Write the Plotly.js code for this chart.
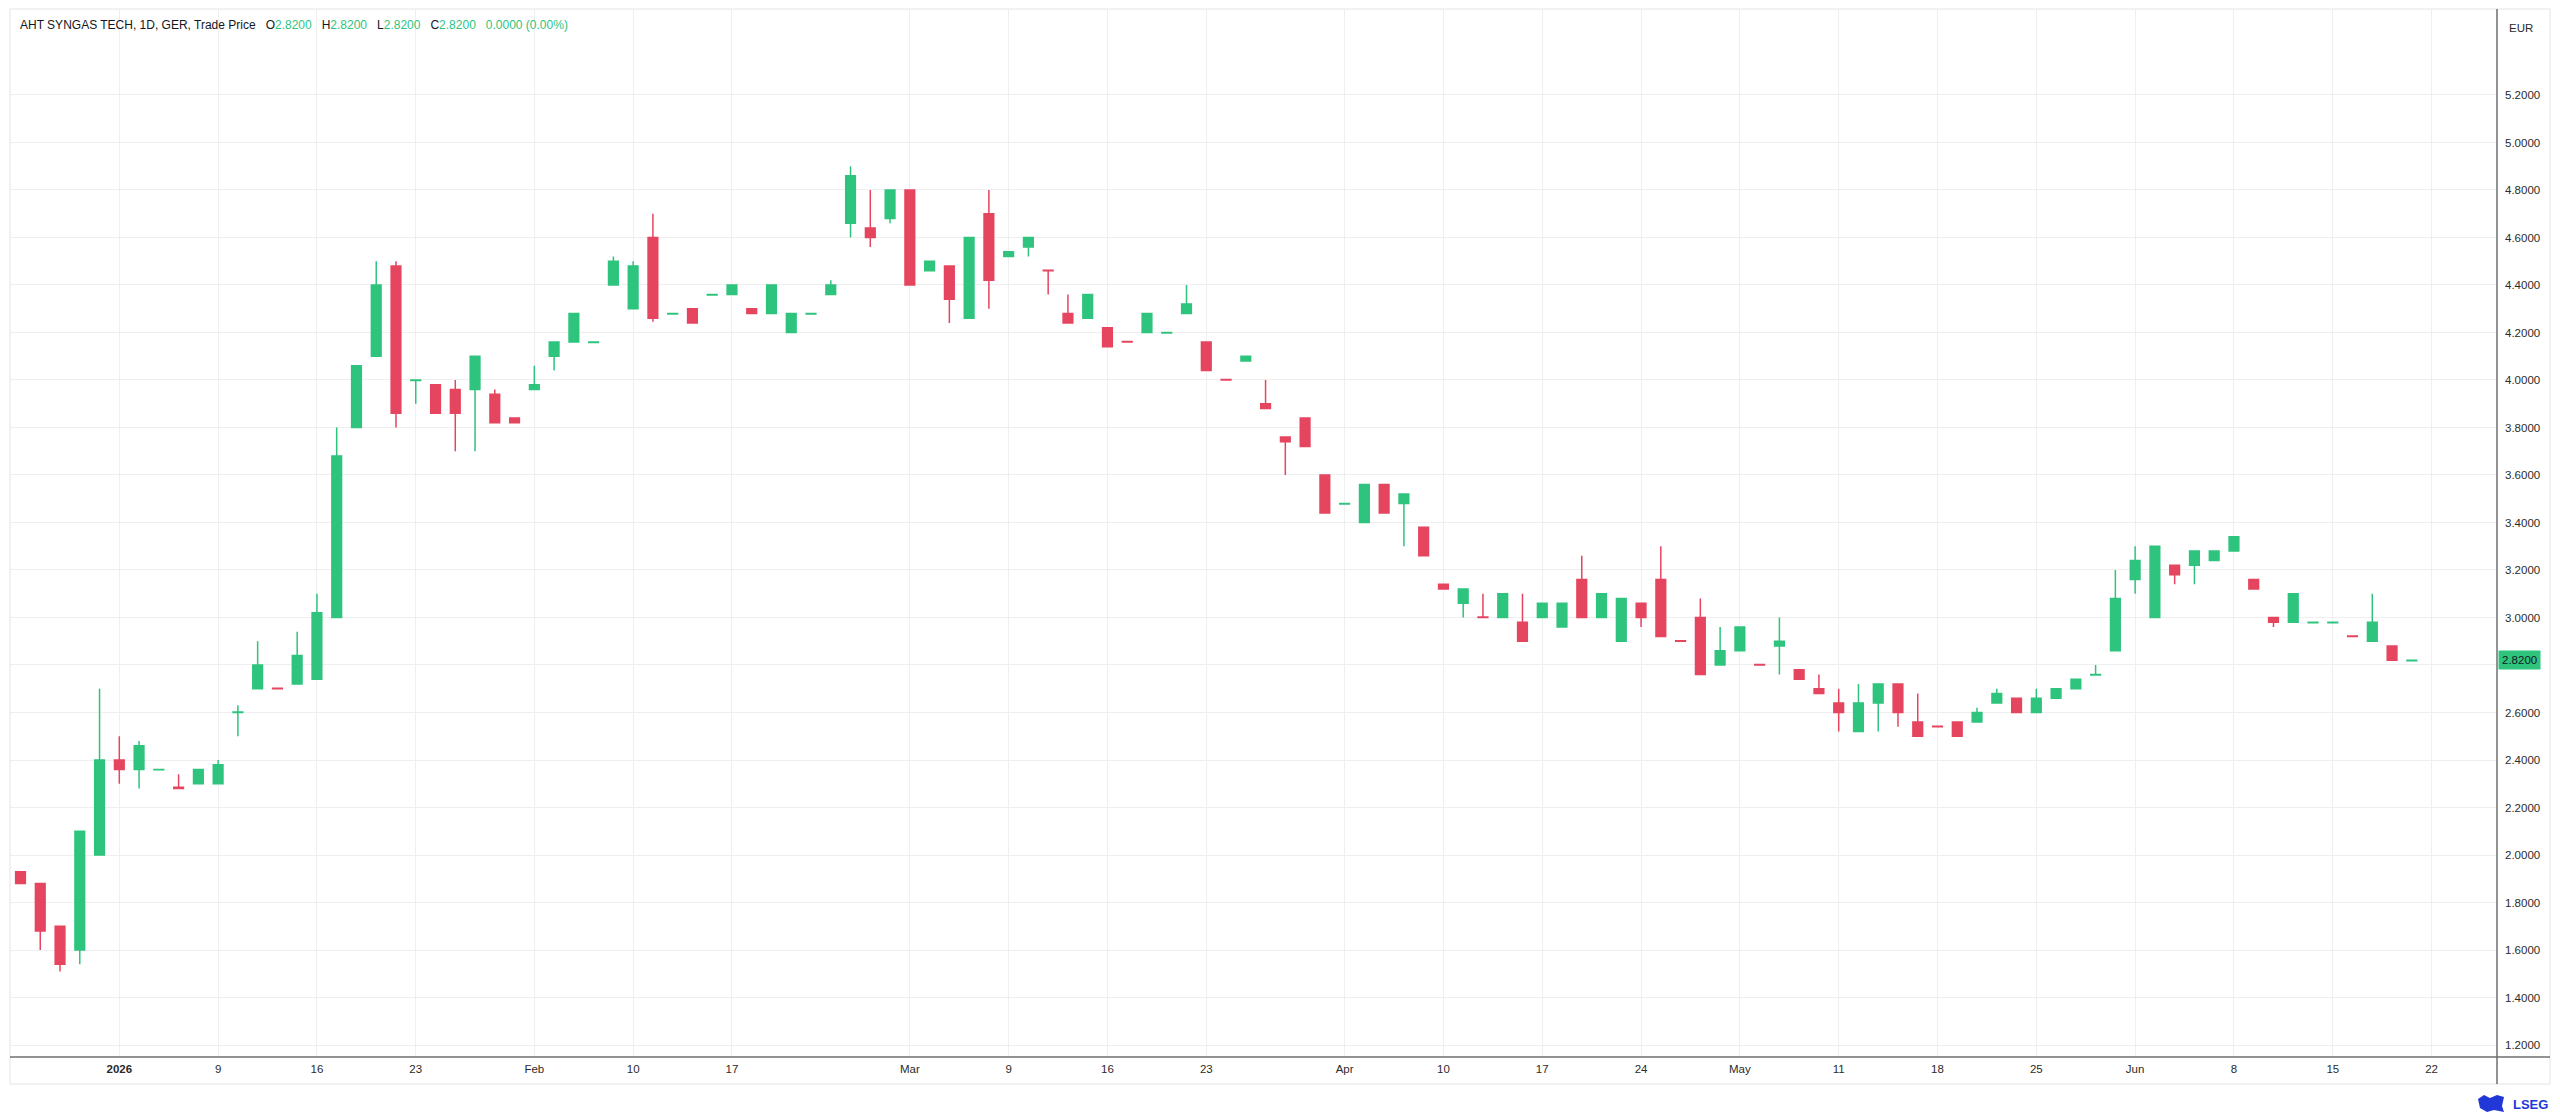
<!DOCTYPE html>
<html>
<head>
<meta charset="utf-8">
<script src="https://cdn.plot.ly/plotly-3.0.1.min.js"></script>
<style>
html,body{margin:0;padding:0;background:#ffffff;overflow:hidden}
#chart{width:2560px;height:1115px}
</style>
</head>
<body>
<div id="chart"></div>
<script>
// ---- data ----
const openP = [
  1.93, 1.88, 1.70, 1.60, 2.00, 2.40, 2.36, 2.359, 2.285, 2.30,
  2.30, 2.60, 2.70, 2.702, 2.72, 2.74, 3.00, 3.80, 4.10, 4.48,
  3.998, 3.98, 3.96, 3.96, 3.94, 3.84, 3.96, 4.10, 4.16, 4.158,
  4.40, 4.30, 4.60, 4.278, 4.30, 4.358, 4.36, 4.30, 4.28, 4.20,
  4.278, 4.36, 4.66, 4.64, 4.68, 4.80, 4.46, 4.48, 4.26, 4.70,
  4.52, 4.56, 4.462, 4.28, 4.26, 4.22, 4.162, 4.20, 4.198, 4.28,
  4.16, 4.002, 4.08, 3.90, 3.76, 3.84, 3.60, 3.478, 3.40, 3.56,
  3.48, 3.38, 3.14, 3.06, 3.002, 3.00, 2.98, 3.00, 2.96, 3.16,
  3.00, 2.90, 3.06, 3.16, 2.902, 3.00, 2.80, 2.86, 2.802, 2.88,
  2.78, 2.70, 2.64, 2.52, 2.64, 2.72, 2.56, 2.542, 2.56, 2.56,
  2.64, 2.66, 2.60, 2.66, 2.70, 2.758, 2.86, 3.16, 3.00, 3.22,
  3.22, 3.24, 3.28, 3.16, 3.00, 2.98, 2.978, 2.978, 2.922, 2.90,
  2.88, 2.818
];
const highP = [
  1.93, 1.88, 1.70, 2.10, 2.70, 2.50, 2.48, 2.36, 2.34, 2.36,
  2.40, 2.63, 2.90, 2.702, 2.94, 3.10, 3.80, 4.06, 4.50, 4.50,
  4.00, 3.98, 4.00, 4.10, 3.96, 3.84, 4.06, 4.16, 4.28, 4.16,
  4.52, 4.50, 4.70, 4.28, 4.30, 4.36, 4.40, 4.30, 4.40, 4.28,
  4.28, 4.42, 4.90, 4.80, 4.80, 4.80, 4.50, 4.48, 4.60, 4.80,
  4.54, 4.60, 4.462, 4.36, 4.36, 4.22, 4.162, 4.28, 4.20, 4.40,
  4.16, 4.002, 4.10, 4.00, 3.76, 3.84, 3.60, 3.48, 3.56, 3.56,
  3.52, 3.38, 3.14, 3.12, 3.10, 3.10, 3.10, 3.06, 3.06, 3.26,
  3.10, 3.08, 3.06, 3.30, 2.902, 3.08, 2.96, 2.96, 2.802, 3.00,
  2.78, 2.76, 2.70, 2.72, 2.72, 2.72, 2.68, 2.542, 2.56, 2.62,
  2.70, 2.66, 2.70, 2.70, 2.74, 2.80, 3.20, 3.30, 3.30, 3.22,
  3.28, 3.28, 3.34, 3.16, 3.00, 3.10, 2.98, 2.98, 2.922, 3.10,
  2.88, 2.82
];
const lowP = [
  1.88, 1.60, 1.51, 1.54, 2.00, 2.30, 2.28, 2.359, 2.28, 2.30,
  2.30, 2.50, 2.70, 2.70, 2.72, 2.74, 3.00, 3.80, 4.10, 3.80,
  3.90, 3.86, 3.70, 3.70, 3.82, 3.82, 3.96, 4.04, 4.16, 4.158,
  4.40, 4.30, 4.245, 4.278, 4.24, 4.358, 4.36, 4.28, 4.28, 4.20,
  4.278, 4.36, 4.60, 4.56, 4.66, 4.40, 4.46, 4.24, 4.26, 4.30,
  4.52, 4.52, 4.36, 4.24, 4.26, 4.14, 4.16, 4.20, 4.198, 4.28,
  4.04, 4.00, 4.08, 3.88, 3.60, 3.72, 3.44, 3.478, 3.40, 3.44,
  3.30, 3.26, 3.12, 3.00, 3.00, 3.00, 2.90, 3.00, 2.96, 3.00,
  3.00, 2.90, 2.96, 2.92, 2.90, 2.76, 2.80, 2.86, 2.80, 2.76,
  2.74, 2.68, 2.52, 2.52, 2.52, 2.54, 2.50, 2.54, 2.50, 2.56,
  2.64, 2.60, 2.60, 2.66, 2.70, 2.758, 2.86, 3.10, 3.00, 3.14,
  3.14, 3.24, 3.28, 3.12, 2.96, 2.98, 2.978, 2.978, 2.92, 2.90,
  2.82, 2.818
];
const closeP = [
  1.88, 1.68, 1.54, 2.10, 2.40, 2.36, 2.46, 2.36, 2.28, 2.36,
  2.38, 2.602, 2.80, 2.70, 2.84, 3.02, 3.68, 4.06, 4.40, 3.86,
  4.00, 3.86, 3.86, 4.10, 3.82, 3.82, 3.98, 4.16, 4.28, 4.16,
  4.50, 4.48, 4.26, 4.28, 4.24, 4.36, 4.40, 4.28, 4.40, 4.28,
  4.28, 4.40, 4.86, 4.60, 4.80, 4.40, 4.50, 4.34, 4.60, 4.42,
  4.54, 4.60, 4.46, 4.24, 4.36, 4.14, 4.16, 4.28, 4.20, 4.32,
  4.04, 4.00, 4.10, 3.88, 3.74, 3.72, 3.44, 3.48, 3.56, 3.44,
  3.52, 3.26, 3.12, 3.12, 3.00, 3.10, 2.90, 3.06, 3.06, 3.00,
  3.10, 3.08, 3.00, 2.92, 2.90, 2.76, 2.86, 2.96, 2.80, 2.90,
  2.74, 2.68, 2.60, 2.64, 2.72, 2.60, 2.50, 2.54, 2.50, 2.60,
  2.68, 2.60, 2.66, 2.70, 2.74, 2.76, 3.08, 3.24, 3.30, 3.18,
  3.28, 3.28, 3.34, 3.12, 2.98, 3.10, 2.98, 2.98, 2.92, 2.98,
  2.82, 2.82
];
const tickIdx  = [5, 10, 15, 20, 26, 31, 36, 45, 50, 55, 60, 67, 72, 77, 82, 87, 92, 97, 102, 107, 112, 117, 122];
const tickText = ['<b>2026</b>', '9', '16', '23', 'Feb', '10', '17', 'Mar', '9', '16', '23', 'Apr', '10', '17', '24', 'May', '11', '18', '25', 'Jun', '8', '15', '22'];
const priceTicks = [1.2, 1.4, 1.6, 1.8, 2.0, 2.2, 2.4, 2.6, 2.8, 3.0, 3.2, 3.4, 3.6, 3.8, 4.0, 4.2, 4.4, 4.6, 4.8, 5.0, 5.2];
const lastPrice = 2.82;
const headerTitle = 'AHT SYNGAS TECH, 1D, GER, Trade Price';
const headerQuote = ['O', '2.8200', 'H', '2.8200', 'L', '2.8200', 'C', '2.8200', '', '0.0000 (0.00%)'];
const currency = 'EUR';

// ---- styling ----
const GREEN = '#2ec47e';
const RED = '#e5455f';
const GRID = '#efefef';
const AXIS = '#6e6e6e';
const TXT = '#2b2b2b';
const FONT = 'Liberation Sans, Arial, sans-serif';

const W = 2560, H = 1115;
const L = 10, R = 2497, T = 9, B = 1057;   // plot area in px
const px = x => (x - L) / (R - L);
const py = y => (B - y) / (B - T);

const idx = openP.map((_, i) => i);

const trace = {
  type: 'candlestick',
  x: idx,
  open: openP, high: highP, low: lowP, close: closeP,
  increasing: {line: {color: GREEN, width: 1.5}, fillcolor: GREEN},
  decreasing: {line: {color: RED, width: 1.5}, fillcolor: RED},
  whiskerwidth: 0,
  hoverinfo: 'skip',
  showlegend: false
};

let q = '';
for (let k = 0; k < headerQuote.length; k += 2) {
  q += '&nbsp;&nbsp;&nbsp;' + headerQuote[k] + '<span style="color:' + GREEN + '">' + headerQuote[k + 1] + '</span>';
}

const layout = {
  width: W, height: H,
  margin: {l: L, r: W - R, t: T, b: H - B, pad: 0},
  paper_bgcolor: '#ffffff',
  plot_bgcolor: '#ffffff',
  font: {family: FONT, size: 12, color: TXT},
  hovermode: false,
  dragmode: false,
  showlegend: false,
  boxgap: 0.3,
  xaxis: {
    type: 'linear',
    range: [-0.531, 125.31],
    rangeslider: {visible: false},
    tickmode: 'array',
    tickvals: tickIdx,
    ticktext: tickText,
    showgrid: true,
    gridcolor: GRID,
    gridwidth: 1,
    zeroline: false,
    showline: false,
    ticks: '',
    ticklabelstandoff: 3,
    tickfont: {family: FONT, size: 11.5, color: TXT},
    fixedrange: true
  },
  yaxis: {
    side: 'right',
    range: [1.1495, 5.562],
    tickmode: 'array',
    tickvals: priceTicks,
    ticktext: priceTicks.map(v => Math.abs(v - lastPrice) < 0.05 ? '' : v.toFixed(4)),
    showgrid: true,
    gridcolor: GRID,
    gridwidth: 1,
    zeroline: false,
    showline: false,
    ticks: '',
    ticklabelstandoff: 7,
    tickfont: {family: FONT, size: 11.5, color: TXT},
    fixedrange: true
  },
  shapes: [
    // outer frame
    {type: 'rect', xref: 'paper', yref: 'paper', x0: 0, x1: px(2550), y0: py(1084), y1: 1,
     line: {color: '#e4e4e4', width: 1}, fillcolor: 'rgba(0,0,0,0)', layer: 'above'},
    // time axis line
    {type: 'line', xref: 'paper', yref: 'paper', x0: 0, x1: px(2550), y0: 0, y1: 0,
     line: {color: AXIS, width: 1.5}, layer: 'above'},
    // price axis line
    {type: 'line', xref: 'paper', yref: 'paper', x0: 1, x1: 1, y0: py(1084), y1: 1,
     line: {color: AXIS, width: 1.5}, layer: 'above'},
    // LSEG mark
    {type: 'path', xref: 'paper', yref: 'paper',
     path: 'M ' + px(2478) + ' ' + py(1099) + ' L ' + px(2484) + ' ' + py(1095) + ' L ' + px(2490) + ' ' + py(1098) +
           ' L ' + px(2497) + ' ' + py(1095) + ' L ' + px(2504) + ' ' + py(1097) + ' L ' + px(2502) + ' ' + py(1106) +
           ' L ' + px(2504) + ' ' + py(1112) + ' L ' + px(2494) + ' ' + py(1110) + ' L ' + px(2487) + ' ' + py(1112) +
           ' L ' + px(2480) + ' ' + py(1108) + ' Z',
     fillcolor: '#2237d8', line: {width: 0}, layer: 'above'}
  ],
  annotations: [
    {xref: 'paper', yref: 'paper', x: px(18), y: py(25), xanchor: 'left', yanchor: 'middle',
     text: headerTitle + q, showarrow: false,
     font: {family: FONT, size: 12, color: '#131722'}},
    {xref: 'paper', yref: 'paper', x: px(2507), y: py(28), xanchor: 'left', yanchor: 'middle',
     text: currency, showarrow: false, font: {family: FONT, size: 11.5, color: TXT}},
    {xref: 'paper', yref: 'y', x: 1, y: lastPrice, xanchor: 'left', yanchor: 'middle',
     text: lastPrice.toFixed(4), showarrow: false, bgcolor: GREEN, borderpad: 3, xshift: 1,
     font: {family: FONT, size: 11.5, color: '#131722'}},
    {xref: 'paper', yref: 'paper', x: px(2511), y: py(1104), xanchor: 'left', yanchor: 'middle',
     text: '<b>LSEG</b>', showarrow: false, font: {family: FONT, size: 13, color: '#2237d8'}}
  ]
};

Plotly.newPlot('chart', [trace], layout, {displayModeBar: false, staticPlot: true, responsive: false});
</script>
</body>
</html>
